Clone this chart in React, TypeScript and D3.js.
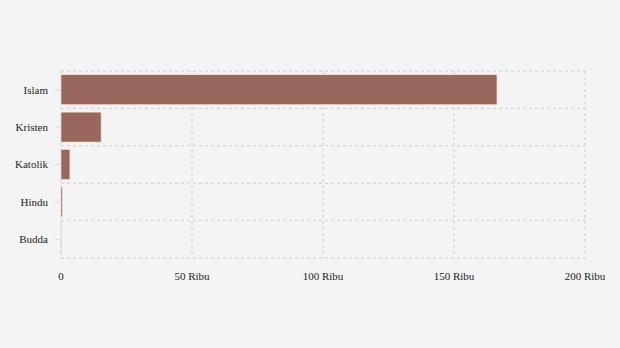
import React from "react";
import * as d3 from "d3";

const categories = ["Islam", "Kristen", "Katolik", "Hindu", "Budda"];
const values = [166400, 15300, 3400, 500, 100];
const xTicks = [0, 50000, 100000, 150000, 200000];

export default function App() {
  const W = 620, H = 348;
  const m = { left: 61, right: 35, top: 71, bottom: 90 };
  const x = d3.scaleLinear().domain([0, 200000]).range([m.left, W - m.right]);
  const y = d3.scaleBand().domain(categories).range([m.top, H - m.bottom]).paddingInner(0.2).paddingOuter(0.1);
  const bandStep = y.step();
  const fmt = (v: number) => (v === 0 ? "0" : `${v / 1000} Ribu`);
  const gridColor = "#d9d9d9";
  const boundaries = d3.range(categories.length + 1).map((i) => m.top + i * ((H - m.bottom - m.top) / categories.length));
  return (
    <svg width={W} height={H} style={{ position: "absolute", left: 0, top: 0, background: "#f4f4f4" }}>
      <rect x={0} y={0} width={W} height={H} fill="#f4f4f4" />
      {boundaries.map((b, i) => (
        <line key={"h" + i} x1={m.left} x2={W - m.right} y1={b} y2={b} stroke={gridColor} strokeWidth={1.5} strokeDasharray="3,3" />
      ))}
      {xTicks.map((t) => (
        <line key={"v" + t} x1={x(t)} x2={x(t)} y1={m.top} y2={H - m.bottom} stroke={gridColor} strokeWidth={1.5} strokeDasharray="3,3" />
      ))}
      {categories.map((c, i) => (
        <rect key={c} x={x(0)} y={y(c)!} width={Math.max(0, x(values[i]) - x(0))} height={y.bandwidth()}
          fill="#9a675d" stroke="#f8e0da" strokeWidth={0.6} />
      ))}
      {categories.map((c) => (
        <g key={"l" + c}>
          <line x1={m.left - 6} x2={m.left - 1} y1={y(c)! + y.bandwidth() / 2} y2={y(c)! + y.bandwidth() / 2} stroke={gridColor} strokeWidth={1} />
          <text x={m.left - 13} y={y(c)! + y.bandwidth() / 2} dy="0.35em" textAnchor="end" fontFamily="Liberation Serif, serif" fontSize={11} fill="#222">{c}</text>
        </g>
      ))}
      {xTicks.map((t) => (
        <text key={"t" + t} x={x(t)} y={H - m.bottom + 22} textAnchor="middle" fontFamily="Liberation Serif, serif" fontSize={11} fill="#222">{fmt(t)}</text>
      ))}
    </svg>
  );
}
